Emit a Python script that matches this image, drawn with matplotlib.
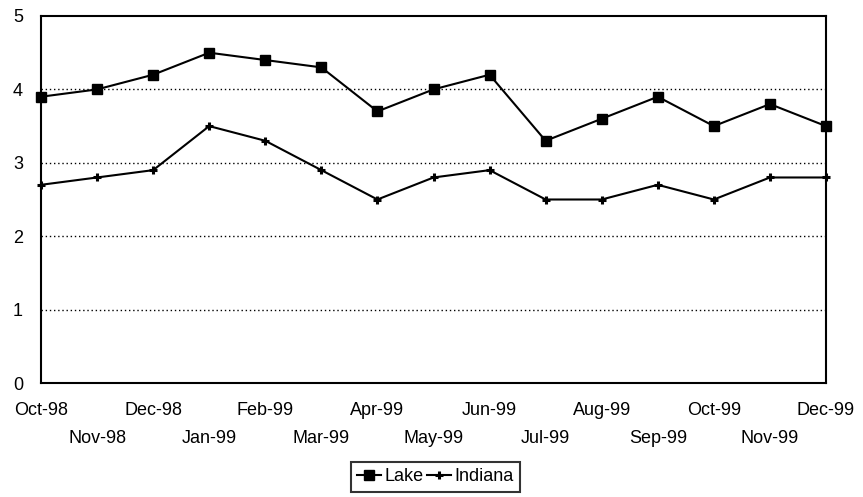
import matplotlib
matplotlib.use("Agg")
import matplotlib.pyplot as plt
from matplotlib.lines import Line2D

plt.rcParams['font.family'] = ['Liberation Sans', 'DejaVu Sans']

months = ["Oct-98", "Nov-98", "Dec-98", "Jan-99", "Feb-99", "Mar-99", "Apr-99",
          "May-99", "Jun-99", "Jul-99", "Aug-99", "Sep-99", "Oct-99", "Nov-99", "Dec-99"]
lake = [3.9, 4.0, 4.2, 4.5, 4.4, 4.3, 3.7, 4.0, 4.2, 3.3, 3.6, 3.9, 3.5, 3.8, 3.5]
indiana = [2.7, 2.8, 2.9, 3.5, 3.3, 2.9, 2.5, 2.8, 2.9, 2.5, 2.5, 2.7, 2.5, 2.8, 2.8]
y_ticks = [0, 1, 2, 3, 4, 5]

FS = 13

fig = plt.figure(figsize=(8.63, 4.97), dpi=100)
ax = fig.add_axes([41/863, 1-383/497, (826-41)/863, (383-16)/497])

x = list(range(len(months)))
ax.plot(x, lake, color='black', lw=1.5, marker='s', ms=7, mfc='black', mec='black',
        clip_on=False, zorder=3)
ax.plot(x, indiana, color='black', lw=1.5, marker='+', ms=6, mew=2.2,
        clip_on=False, zorder=3)

ax.set_xlim(0, len(months) - 1)
ax.set_ylim(0, 5)
ax.set_yticks(y_ticks)
ax.set_yticklabels([str(v) for v in y_ticks], fontsize=FS)

ax.set_xticks(x[0::2])
ax.set_xticklabels(months[0::2], fontsize=FS)
ax.set_xticks(x[1::2], minor=True)
ax.set_xticklabels(months[1::2], minor=True, fontsize=FS)
ax.tick_params(axis='x', which='major', length=0, pad=14)
ax.tick_params(axis='x', which='minor', length=0, pad=34)
ax.tick_params(axis='y', length=0, pad=13)

for v in y_ticks[1:-1]:
    ax.axhline(v, color='black', lw=1, ls=(0, (1, 2)), zorder=1)

for s in ax.spines.values():
    s.set_color('black')
    s.set_linewidth(1.5)

handles = [
    Line2D([], [], color='black', lw=1.5, marker='s', ms=7),
    Line2D([], [], color='black', lw=1.5, marker='+', ms=6, mew=2.2),
]
leg = fig.legend(handles, ["Lake", "Indiana"], loc='upper left',
                 bbox_to_anchor=(351/863, 1-462/497), ncol=2, fontsize=FS,
                 frameon=True, fancybox=False, handlelength=1.3, handletextpad=0.2,
                 columnspacing=0.2, borderpad=0.35, borderaxespad=0)
leg.get_frame().set_edgecolor('black')
leg.get_frame().set_linewidth(1.5)

fig.savefig("out.png", dpi=100)
